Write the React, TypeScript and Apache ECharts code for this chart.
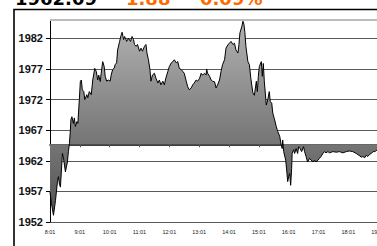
import React, { useEffect, useRef } from "react";
import * as echarts from "echarts";

// Header (clipped at top of the picture)
const headerValue = "1962.09";
const headerChange = "1.88";
const headerPct = "0.09%";

// Axis settings
const Y_MIN = 1952;
const Y_MAX = 1985;
const BASELINE = 1964.7; // previous close, where the horizontal axis crosses
const yTicks = [1952, 1957, 1962, 1967, 1972, 1977, 1982];
const hourLabels = ["8:01", "9:01", "10:01", "11:01", "12:01", "13:01", "14:01", "15:01", "16:01", "17:01", "18:01", "19:01", "20:01"];
const X_MAX = 720; // minutes after 8:01

// Minutes after 8:01
const minutes = [
  0, 3, 7, 11, 15, 17, 19, 21, 23, 25, 27, 31, 33, 35, 37, 39,
  41, 42, 44, 47, 49, 51, 54, 56, 59, 61, 63, 65, 68, 70, 74, 76, 79, 83, 86, 90, 93, 96, 98, 101, 103, 106, 109, 111, 114, 117, 121, 123, 126, 129, 131, 134, 136, 140, 143, 145, 148, 150, 153, 154, 158, 162, 165, 168, 170, 173, 176, 180, 183, 186, 190, 193, 195, 198,
  201, 203, 206, 210, 213, 217, 220, 223, 227, 230, 233, 237, 240, 244, 247, 250, 254, 257, 260, 264, 267, 270, 274, 277, 280, 284, 287, 290, 294, 297,
  301, 304, 307, 311, 314, 315, 317, 321, 324, 327, 331, 334, 337, 341, 344, 347, 351, 354, 358, 361, 364, 368, 371, 374, 378, 380, 382, 386, 388, 390, 392, 394, 398,
  401, 404, 408, 411, 415, 417, 419, 421, 425, 427, 429, 431, 435, 438, 441, 443, 446, 448, 451, 455, 458, 462, 465, 467, 468, 470, 474, 476, 478, 480, 482, 484, 486, 487, 490, 492, 495, 498,
  500, 503, 506, 510, 512, 515, 518, 522, 525, 529, 532, 535, 539, 542, 545, 549, 552, 555, 559, 562, 569, 576, 582, 589, 596,
  602, 609, 616, 623, 626, 629, 633, 636, 639, 643, 646, 650, 654, 656, 660
];

// Index level
const prices = [
  1956.9, 1955.0, 1953.1, 1955.5, 1958.6, 1959.4, 1958.2, 1957.7, 1960.5, 1963.2, 1962.5, 1960.2, 1961.0, 1961.8, 1963.5, 1964.8,
  1967.0, 1968.7, 1969.2, 1968.1, 1969.0, 1967.6, 1968.4, 1968.1, 1972.0, 1974.95, 1975.2, 1973.6, 1973.3, 1972.0, 1972.8, 1972.3, 1973.3, 1972.8, 1975.2, 1977.1, 1976.6, 1975.2, 1976.0, 1974.95, 1976.3, 1978.2, 1977.4, 1975.8, 1975.0, 1975.2, 1975.0, 1976.0, 1976.9, 1977.1, 1977.7, 1978.0, 1980.1, 1981.5, 1982.5, 1983.0, 1981.8, 1982.3, 1981.8, 1981.5, 1982.0, 1981.5, 1982.3, 1981.8, 1981.0, 1980.7, 1981.0, 1979.9, 1980.4, 1979.9, 1980.7, 1981.0, 1979.6, 1978.5,
  1976.9, 1975.0, 1976.0, 1976.3, 1975.5, 1974.7, 1975.2, 1974.4, 1975.0, 1974.4, 1975.5, 1976.6, 1977.4, 1978.0, 1978.2, 1978.5, 1978.0, 1978.2, 1977.1, 1976.9, 1976.6, 1976.3, 1975.0, 1974.1, 1973.6, 1973.9, 1974.4, 1974.7, 1975.2, 1975.0,
  1975.5, 1976.3, 1976.0, 1976.3, 1976.0, 1977.0, 1976.3, 1975.8, 1975.2, 1975.0, 1974.9, 1973.9, 1974.4, 1975.2, 1976.6, 1977.7, 1978.5, 1980.4, 1981.0, 1981.2, 1981.5, 1981.0, 1981.2, 1980.1, 1979.6, 1981.0, 1982.9, 1984.0, 1984.8, 1984.3, 1982.9, 1980.7, 1978.2,
  1977.7, 1975.4, 1973.1, 1972.7, 1975.0, 1973.3, 1975.8, 1977.4, 1978.2, 1975.8, 1977.9, 1975.0, 1971.1, 1972.0, 1973.3, 1971.7, 1971.4, 1969.8, 1968.95, 1967.6, 1966.8, 1966.0, 1964.6, 1964.0, 1965.4, 1963.5, 1962.1, 1960.5, 1958.6, 1959.4, 1959.9, 1958.0, 1960.75, 1963.2, 1963.8, 1963.2, 1964.0, 1963.2,
  1964.3, 1964.0, 1963.5, 1964.3, 1963.5, 1962.7, 1961.8, 1962.4, 1962.1, 1961.8, 1962.1, 1961.8, 1962.1, 1962.4, 1962.7, 1963.2, 1963.5, 1963.3, 1963.5, 1963.3, 1963.5, 1963.4, 1963.5, 1963.3, 1963.5,
  1963.6, 1963.5, 1963.2, 1962.8, 1962.6, 1962.7, 1962.5, 1962.9, 1962.7, 1963.05, 1963.2, 1963.5, 1963.5, 1963.7, 1963.7
];

export default function App() {
  const ref = useRef<HTMLDivElement>(null);

  useEffect(() => {
    if (!ref.current) return;
    const chart = echarts.init(ref.current, null, { renderer: "svg" });
    const data = minutes.map((m, i) => [m, prices[i]]);
    const headerFont = 'bold 18px "DejaVu Sans"';

    chart.setOption({
      animation: false,
      backgroundColor: "#fff",
      grid: { left: 50, top: 20, bottom: 24, right: 12, containLabel: false },
      graphic: [
        {
          type: "rect",
          shape: { x: 14, y: 9.5, width: 600, height: 400 },
          style: { fill: "none", stroke: "#000", lineWidth: 1.6 },
        },
        {
          type: "text",
          x: 15,
          y: 7,
          style: { text: headerValue, font: headerFont, fill: "#000", verticalAlign: "bottom" },
        },
        {
          type: "text",
          x: 126,
          y: 7,
          style: { text: headerChange, font: headerFont, fill: "#ff6a00", verticalAlign: "bottom" },
        },
        {
          type: "text",
          x: 200,
          y: 7,
          style: { text: headerPct, font: headerFont, fill: "#ff6a00", verticalAlign: "bottom" },
        },
      ],
      xAxis: [
        {
          type: "value",
          position: "bottom",
          min: 0,
          max: X_MAX,
          interval: 60,
          axisLine: { show: false },
          axisTick: { show: false },
          splitLine: { show: false },
          axisLabel: {
            fontFamily: "Liberation Sans",
            fontSize: 5.5,
            color: "#222",
            margin: 7,
            showMaxLabel: false,
            formatter: (v: number) => hourLabels[Math.round(v / 60)] ?? "",
          },
        },
        {
          type: "value",
          position: "bottom",
          min: 0,
          max: X_MAX,
          interval: 60,
          axisLine: { show: true, onZero: true, onZeroAxisIndex: 1, lineStyle: { color: "#000", width: 1.6 } },
          axisTick: { show: true, length: 3, lineStyle: { color: "#555", width: 1 } },
          axisLabel: { show: false },
          splitLine: { show: false },
        },
      ],
      yAxis: [
        {
          type: "value",
          min: Y_MIN,
          max: Y_MAX,
          axisLine: { show: true, lineStyle: { color: "#000", width: 1 } },
          axisTick: { show: true, length: 4, customValues: yTicks, lineStyle: { color: "#000" } },
          axisLabel: {
            customValues: yTicks,
            fontFamily: "Liberation Sans",
            fontWeight: "bold",
            fontSize: 11,
            color: "#111",
            margin: 7,
            formatter: (v: number) => String(v),
          },
          splitLine: { show: true, lineStyle: { color: "#5a5a5a", width: 1 } },
        },
        {
          type: "value",
          show: false,
          min: Y_MIN - BASELINE,
          max: Y_MAX - BASELINE,
          splitLine: { show: false },
        },
      ],
      series: [
        {
          type: "line",
          xAxisIndex: 0,
          yAxisIndex: 0,
          data,
          symbol: "none",
          showSymbol: false,
          lineStyle: { color: "#000", width: 1 },
          areaStyle: {
            origin: BASELINE,
            opacity: 1,
            color: new echarts.graphic.LinearGradient(0, 0, 0, 1, [
              { offset: 0, color: "#b2b2b2" },
              { offset: 1, color: "#525252" },
            ]),
          },
          markLine: {
            silent: true,
            symbol: ["none", "none"],
            label: { show: false },
            lineStyle: { color: "#bdbdbd", width: 2, type: "solid" },
            data: [{ yAxis: Y_MAX }],
          },
          z: 3,
        },
      ],
    });

    return () => chart.dispose();
  }, []);

  return (
    <div style={{ position: "fixed", left: 0, top: 0, width: 377, height: 246, overflow: "hidden", background: "#fff" }}>
      <div ref={ref} style={{ width: 420, height: 246 }} />
    </div>
  );
}
